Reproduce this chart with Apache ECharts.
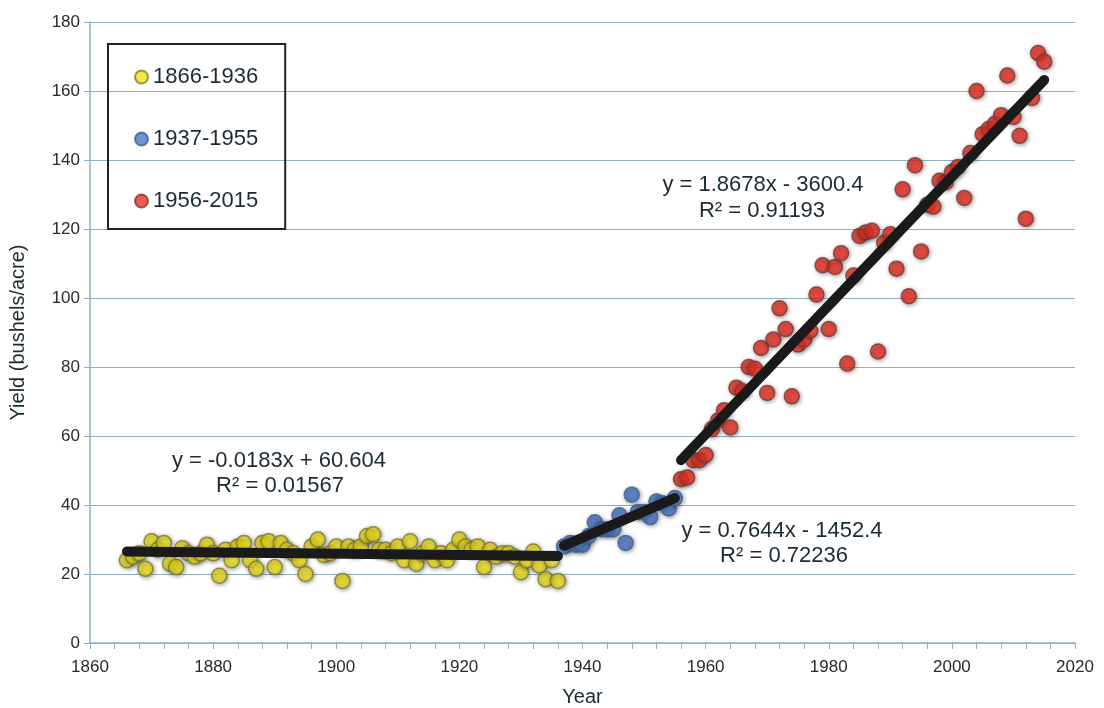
<!DOCTYPE html>
<html>
<head>
<meta charset="utf-8">
<script src="https://cdn.jsdelivr.net/npm/echarts@6/dist/echarts.min.js"></script>
<style>
  html, body { margin: 0; padding: 0; background: #fff; }
  #chart { width: 1104px; height: 708px; }
</style>
</head>
<body>
<div id="chart"></div>
<script>
// yearly yields, bushels/acre
const earlyYears = [];
for (let y = 1866; y <= 1936; y++) earlyYears.push(y);
const earlyYield = [
  24, 25, 26, 21.5, 29.5, 27, 29, 23, 22, 27.5,
  26, 25, 26, 28.5, 26, 19.5, 27, 24, 28, 29,
  24, 21.5, 29, 29.5, 22, 29, 27, 26, 24, 20,
  28, 30, 25.5, 26, 28, 18, 28, 27, 28, 31,
  31.5, 27, 27, 26, 28, 24, 29.5, 23, 26, 28,
  24, 26, 24, 27, 30, 28, 27, 28, 22, 27,
  25, 26, 26, 25, 20.5, 24, 26.5, 22.5, 18.5, 24,
  18
];

const midYears = [];
for (let y = 1937; y <= 1955; y++) midYears.push(y);
const midYield = [
  28, 29, 28.5, 28.5, 31, 35, 33, 33, 33, 37,
  29, 43, 38, 38, 36.5, 41, 40.5, 39, 42
];

const lateYears = [];
for (let y = 1956; y <= 2015; y++) lateYears.push(y);
const lateYield = [
  47.5, 48, 53, 53, 54.5, 62, 64.5, 67.5, 62.5, 74,
  73, 80, 79.5, 85.5, 72.5, 88, 97, 91, 71.5, 86.5,
  88, 90.5, 101, 109.5, 91, 109, 113, 81, 106.5, 118,
  119, 119.5, 84.5, 116, 118.5, 108.5, 131.5, 100.5, 138.5, 113.5,
  127, 126.5, 134, 133.5, 136.5, 138, 129, 142, 160, 147.5,
  149, 150.5, 153, 164.5, 152.5, 147, 123, 158, 171, 168.5
];

// trend line end points
const trendEarly = [[1866, 26.5], [1936, 25.2]];
const trendMid = [[1937, 28.2], [1955, 42.0]];
const trendLate = [[1956, 53.0], [2015, 163.2]];

const seriesNames = ['1866-1936', '1937-1955', '1956-2015'];

const pairs = (xs, ys) => xs.map((x, i) => [x, ys[i]]);

const chart = echarts.init(document.getElementById('chart'));
const txt = '#1c2a33';
const gridCol = '#8fb0c3';
const font = 'Liberation Sans, Arial, sans-serif';

const dotStyle = (fill, border) => ({
  color: fill,
  borderColor: border,
  borderWidth: 1.5,
  shadowBlur: 4,
  shadowColor: 'rgba(0,0,0,0.45)',
  shadowOffsetX: 1,
  shadowOffsetY: 1
});

const trend = (data) => ({
  type: 'line',
  data: data,
  symbol: 'none',
  silent: true,
  z: 5,
  lineStyle: { color: '#1a1a1a', width: 10, cap: 'round' }
});

// equation labels (text, centre x, centre y)
const note = (text, x, y) => ({
  type: 'text',
  x: x,
  y: y,
  z: 10,
  style: {
    text: text,
    fill: txt,
    font: '22px ' + font,
    align: 'center',
    verticalAlign: 'middle'
  }
});

chart.setOption({
  animation: false,
  backgroundColor: '#fff',
  textStyle: { fontFamily: font },
  grid: { left: 90, right: 29, top: 22, bottom: 65, outerBoundsMode: 'none', containLabel: false },
  legend: {
    orient: 'vertical',
    left: 108,
    top: 44,
    data: seriesNames,
    icon: 'circle',
    itemWidth: 13,
    itemHeight: 13,
    itemGap: 40,
    padding: [22, 27, 17, 26],
    borderColor: '#222',
    borderWidth: 2,
    textStyle: { fontSize: 22, color: txt, padding: [0, 0, 0, 0] }
  },
  xAxis: {
    type: 'value',
    min: 1860,
    max: 2020,
    interval: 4,
    name: 'Year',
    nameLocation: 'middle',
    nameGap: 44,
    nameTextStyle: { fontSize: 20, color: txt },
    axisLine: { lineStyle: { color: gridCol, width: 1.5 } },
    axisTick: { show: true, length: 6, inside: false, lineStyle: { color: gridCol } },
    axisLabel: {
      fontSize: 17,
      color: '#2a2a2a',
      margin: 16,
      formatter: v => (v % 20 === 0 ? String(v) : '')
    },
    splitLine: { show: false }
  },
  yAxis: {
    type: 'value',
    min: 0,
    max: 180,
    interval: 20,
    name: 'Yield (bushels/acre)',
    nameLocation: 'middle',
    nameGap: 62,
    nameTextStyle: { fontSize: 20, color: txt },
    axisLine: { show: true, lineStyle: { color: gridCol, width: 1.5 } },
    axisTick: { show: true, length: 6, lineStyle: { color: gridCol } },
    axisLabel: { fontSize: 17, color: '#2a2a2a', margin: 10 },
    splitLine: { lineStyle: { color: gridCol, width: 1.2 } }
  },
  series: [
    {
      name: seriesNames[0],
      type: 'scatter',
      symbolSize: 15,
      data: pairs(earlyYears, earlyYield),
      itemStyle: dotStyle('#f0e21e', '#7d7a2c')
    },
    {
      name: seriesNames[1],
      type: 'scatter',
      symbolSize: 15,
      data: pairs(midYears, midYield),
      itemStyle: dotStyle('#4a78c4', '#3d5f96')
    },
    {
      name: seriesNames[2],
      type: 'scatter',
      symbolSize: 15,
      data: pairs(lateYears, lateYield),
      itemStyle: dotStyle('#ee3224', '#7a3a34')
    },
    trend(trendEarly),
    trend(trendMid),
    trend(trendLate)
  ],
  graphic: [
    note('y = -0.0183x + 60.604', 279, 461),
    note('R² = 0.01567', 280, 486),
    note('y = 1.8678x - 3600.4', 763, 185),
    note('R² = 0.91193', 762, 211),
    note('y = 0.7644x - 1452.4', 782, 531),
    note('R² = 0.72236', 784, 556)
  ]
});
window.addEventListener('resize', () => chart.resize());
</script>
</body>
</html>
